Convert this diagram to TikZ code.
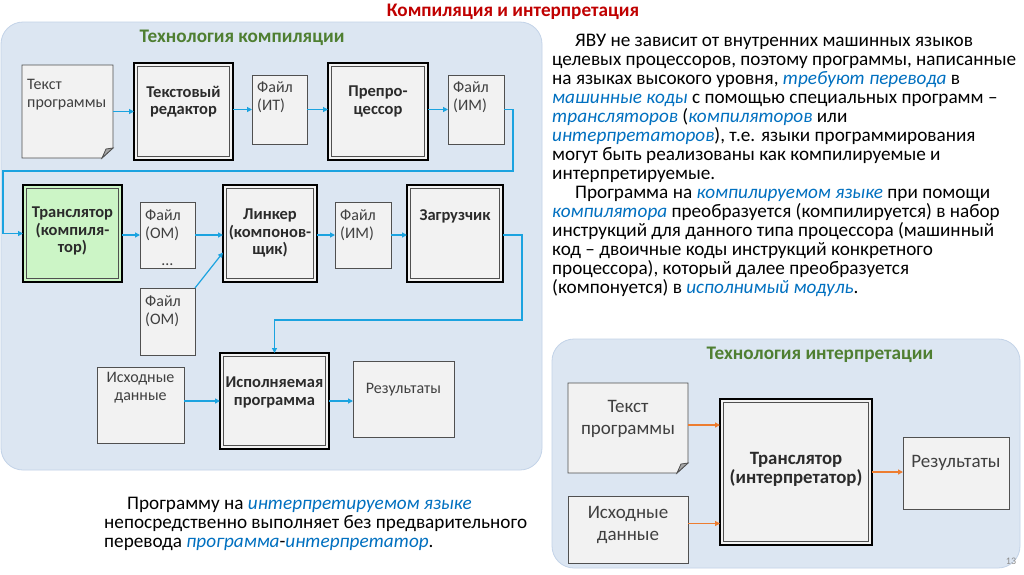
\documentclass[tikz,border=0pt]{standalone}
\usepackage{fontspec}
\setmainfont{Carlito}
\usepackage{xcolor}
\usepackage{tikz}
\usetikzlibrary{arrows.meta}

\definecolor{panelfill}{HTML}{DCE6F2}
\definecolor{panelline}{HTML}{C3D3E8}
\definecolor{boxfill}{HTML}{F2F2F2}
\definecolor{boxline}{HTML}{505050}
\definecolor{txtgray}{HTML}{404040}
\definecolor{txtdark}{HTML}{2B2B2B}
\definecolor{trgreen}{HTML}{CCF5C6}
\definecolor{arrblue}{HTML}{1BA3E0}
\definecolor{arrorange}{HTML}{ED7D31}
\definecolor{termblue}{HTML}{0070C0}
\definecolor{titlered}{HTML}{C00000}
\definecolor{titlegreen}{HTML}{4F7F32}

\newcommand\boxfont{\fontsize{16}{18}\selectfont}
\newcommand\boxbold{\fontsize{16.5}{17.5}\selectfont\bfseries}
\newcommand\bigfont{\fontsize{19}{22}\selectfont}
\newcommand\bigbold{\fontsize{18.8}{19}\selectfont\bfseries}
\newcommand\parafont{\fontsize{19.2}{19}\selectfont\lineskiplimit=-6pt}
\newcommand\term[1]{\textcolor{termblue}{\itshape #1}}

\begin{document}
\begin{tikzpicture}[x=1pt,y=-1pt,>={Triangle[length=5pt,width=5pt]},
  panel/.style={draw=panelline,fill=panelfill,line width=0.8pt,rounded corners=22pt},
  box/.style={draw=boxline,fill=boxfill,line width=0.8pt,inner sep=0pt,outer sep=0pt,anchor=north west},
  proc/.style={box,draw=black,line width=2.6pt,
    path picture={\draw[boxline,line width=0.8pt]([shift={(3.5pt,-3.5pt)}]path picture bounding box.north west) rectangle ([shift={(-3.5pt,3.5pt)}]path picture bounding box.south east);}},
  doc/.style={inner sep=0pt,outer sep=0pt,anchor=north west},
  docline/.style={draw=boxline,fill=boxfill,line width=0.8pt},
  tl/.style={anchor=north west,align=left,inner sep=0pt,xshift=5pt,yshift=-#1pt,text=txtgray,font=\boxfont},
  ct/.style={anchor=north,align=center,inner sep=0pt,yshift=-#1pt,text=txtgray,font=\boxfont},
  cb/.style={ct=#1,text=txtdark,font=\boxbold},
  dots/.style={anchor=south,inner sep=0pt,yshift=2pt,text=txtgray,font=\boxfont},
  head/.style={font=\fontsize{19.2}{21}\selectfont\bfseries},
  arr/.style={->,draw=arrblue,line width=1.2pt},
  oarr/.style={->,draw=arrorange,line width=1.2pt},
  para/.style={anchor=north west,align=left,inner sep=0pt,font=\parafont}]
\useasboundingbox[fill=white](0,0) rectangle (1024,574);

\node[head,text=titlered] (title) at (513,12) {Компиляция и интерпретация};

% compilation
\draw[panel] (1,22) rectangle (542,470);
\node[head,text=titlegreen] (ctitle) at (242,38) {Технология компиляции};

\node[doc,minimum width=91pt,minimum height=93pt] (txt) at (22,65) {};
\draw[docline] (txt.north west) -- (txt.north east) -- ([yshift=10pt]txt.south east) -- ([xshift=-11pt]txt.south east) -- (txt.south west) -- cycle;
\draw[docline,fill=black!35] ([yshift=10pt]txt.south east) -- ([xshift=-11pt]txt.south east) -- ([xshift=-7pt,yshift=9pt]txt.south east) -- cycle;
\node[tl=14] (txtlab) at (txt.north west) {Текст\\программы};
\node[proc,minimum width=99pt,minimum height=97pt,label={[cb=23]north:{Текстовый\\редактор}}] (ted) at (134,63) {};
\node[box,minimum width=55pt,minimum height=69pt,label={[tl=6]north west:{Файл\\(ИТ)}}] (fit) at (252,75) {};
\node[proc,minimum width=100pt,minimum height=97pt,label={[cb=23]north:{Препро-\\цессор}}] (pre) at (328,63) {};
\node[box,minimum width=56pt,minimum height=69pt,label={[tl=6]north west:{Файл\\(ИМ)}}] (fim1) at (448,75) {};

\node[proc,fill=trgreen,minimum width=99pt,minimum height=97pt,label={[cb=22]north:{Транслятор\\(компиля-\\тор)}}] (tr) at (23,185) {};
\node[box,minimum width=55pt,minimum height=66pt,label={[tl=7]north west:{Файл\\(ОМ)}},label={[dots]south:…}] (fom1) at (140,202) {};
\node[proc,minimum width=94pt,minimum height=97pt,label={[cb=24]north:{Линкер\\(компонов-\\щик)}}] (lnk) at (223,185) {};
\node[box,minimum width=56pt,minimum height=66pt,label={[tl=7]north west:{Файл\\(ИМ)}}] (fim2) at (335,202) {};
\node[proc,minimum width=96pt,minimum height=97pt,label={[cb=24]north:{Загрузчик}}] (ldr) at (407,185) {};
\node[box,minimum width=55pt,minimum height=67pt,label={[tl=7]north west:{Файл\\(ОМ)}}] (fom2) at (140,288) {};

\node[box,minimum width=87pt,minimum height=76pt,label={[ct=5]north:{Исходные\\данные}}] (dat) at (97,367) {};
\node[proc,minimum width=109pt,minimum height=96pt,label={[cb=24]north:{Исполняемая\\программа}}] (ex) at (220,353) {};
\node[box,minimum width=101pt,minimum height=76pt,label={[ct=22]north:{Результаты}}] (res) at (353,361) {};

\draw[arr] (txt.east |- ted.west) -- (ted.west);
\draw[arr] (ted.east |- fit.west) -- (fit.west);
\draw[arr] (fit.east) -- (fit.east -| pre.west);
\draw[arr] (pre.east |- fim1.west) -- (fim1.west);
\coordinate (c1) at (513,171);
\coordinate (c2) at (3,171);
\draw[arr] (fim1.east) -| (c1) -- (c2) |- (tr.west);
\draw[arr] (tr.east |- fom1.west) -- (fom1.west);
\draw[arr] (fom1.east) -- (fom1.east -| lnk.west);
\draw[arr] (fom2.north east) -- ([yshift=-19pt]lnk.west);
\draw[arr] (lnk.east |- fim2.west) -- (fim2.west);
\draw[arr] (fim2.east) -- (fim2.east -| ldr.west);
\coordinate (c3) at (522,320);
\draw[arr] (ldr.east |- fim2.east) -| (c3) -| (ex.north);
\draw[arr] (dat.east |- ex.west) -- (ex.west);
\draw[arr] (ex.east) -- (ex.east -| res.west);

\node[para] (p3) at (104,496.5) {\hspace*{23pt}Программу на \term{интерпретируемом языке}\\
непосредственно выполняет без предварительного\\
перевода \term{программа}-\term{интерпретатор}.};

% right column
\node[para] (p1) at (552,33.5) {\hspace*{23pt}ЯВУ не зависит от внутренних машинных языков\\
целевых процессоров, поэтому программы, написанные\\
на языках высокого уровня, \term{требуют перевода} в\\
\term{машинные коды} с помощью специальных программ –\\
\term{трансляторов} (\term{компиляторов} или\\
\term{интерпретаторов}), т.е. языки программирования\\
могут быть реализованы как компилируемые и\\
интерпретируемые.};
\node[para] (p2) at (552,186) {\hspace*{23pt}Программа на \term{компилируемом языке} при помощи\\
\term{компилятора} преобразуется (компилируется) в набор\\
инструкций для данного типа процессора (машинный\\
код – двоичные коды инструкций конкретного\\
процессора), который далее преобразуется\\
(компонуется) в \term{исполнимый модуль}.};

% interpretation
\draw[panel] (552,339) rectangle (1020,568);
\node[head,text=titlegreen] (ititle) at (820,355) {Технология интерпретации};

\node[doc,minimum width=120pt,minimum height=90pt] (itxt) at (568,383) {};
\draw[docline] (itxt.north west) -- (itxt.north east) -- ([yshift=10pt]itxt.south east) -- ([xshift=-11pt]itxt.south east) -- (itxt.south west) -- cycle;
\draw[docline,fill=black!35] ([yshift=10pt]itxt.south east) -- ([xshift=-11pt]itxt.south east) -- ([xshift=-7pt,yshift=9pt]itxt.south east) -- cycle;
\node[ct=17,font=\bigfont] (itxtlab) at (itxt.north) {Текст\\программы};
\node[box,minimum width=120pt,minimum height=67pt,label={[ct=10,font=\bigfont]north:{Исходные\\данные}}] (idat) at (568,496) {};
\node[proc,minimum width=152pt,minimum height=146pt,label={[cb=53,font=\bigbold]north:{Транслятор\\(интерпретатор)}}] (itr) at (720,399) {};
\node[box,minimum width=106pt,minimum height=72pt,label={[ct=18,font=\bigfont]north:{Результаты}}] (ires) at (903,437) {};

\draw[oarr] ([yshift=3pt]itxt.east) -- ([yshift=3pt]itxt.east -| itr.west);
\draw[oarr] ([yshift=6pt]idat.east) -- ([yshift=6pt]idat.east -| itr.west);
\draw[oarr] (itr.east) -- (itr.east -| ires.west);

\node[font=\fontsize{10}{12}\selectfont,text=black!45] (pg) at (1011,561) {13};
\end{tikzpicture}
\end{document}
